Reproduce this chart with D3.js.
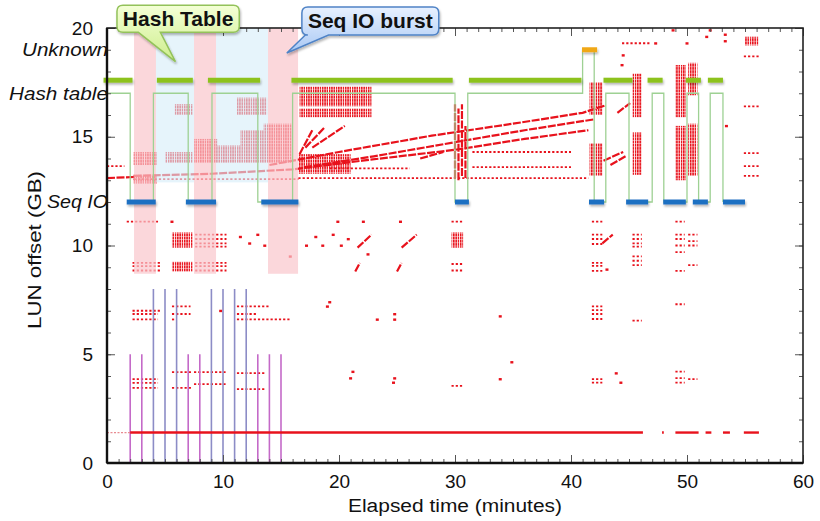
<!DOCTYPE html>
<html>
<head>
<meta charset="utf-8">
<script src="https://cdn.jsdelivr.net/npm/d3@7"></script>
<style>
body { margin: 0; background: #fff; }
svg { display: block; font-family: "Liberation Sans", Arial, Helvetica, sans-serif; }
</style>
</head>
<body>
<svg width="820" height="521"></svg>
<script>
// ---- data (minutes, GB) ----
var xMajor = [0, 10, 20, 30, 40, 50, 60];
var yMajor = [0, 5, 10, 15, 20];
var stateLabels = [["Unknown", 19, 86], ["Hash table", 17, 99], ["Seq IO", 12, 61]];

var hashSegs = [[-0.3, 2.2], [4.3, 7.4], [8.7, 13.2], [15.9, 29.8], [31.2, 40.9], [42.8, 45.3], [46.6, 47.9], [49.9, 51.2], [51.8, 53.1]];
var seqSegs = [[1.7, 4.2], [6.8, 9.4], [13.3, 16.5], [30.0, 31.2], [41.55, 42.85], [44.75, 46.65], [47.95, 49.9], [50.5, 51.8], [53.1, 55.0]];
var unknownSegs = [[40.95, 42.25]];
var hashLevel = 17.6, seqLevel = 12, unknownLevel = 19;

var stateTrace = [[0, 17], [2.0, 12], [4.0, 17], [7.0, 12], [9.05, 17], [13.0, 12], [16.0, 17], [30.0, 12], [31.1, 17],
  [41.0, 19], [42.0, 12], [43.0, 17], [45.0, 12], [47.0, 17], [48.0, 12], [50.0, 17], [51.0, 12], [52.0, 17], [53.1, 12], [53.1, 12]];

var pinkBands = [[2.33, 4.22], [7.5, 9.4], [13.88, 16.47]];
var pinkRange = [8.7, 20];
var blueBands = [[4.22, 7.5], [9.4, 13.88]];
var blueRange = [12.9, 20];

var purpleLines = [[2, 5], [3, 5], [4, 8], [5, 8], [6, 8], [7, 5], [8, 5], [9, 8], [10, 8], [11, 8], [12, 8], [13, 5], [14, 5], [15, 5]];

var lunLevel = 1.4;
var lunSegs = [[2.0, 46.2], [47.85, 48.0], [49.0, 51.0], [51.6, 52.1], [53.1, 53.7], [54.9, 56.2]];
var lunFaint = [[0, 2.0]];

var redBlocks = [
  [2.3, 4.3, 13.7, 14.3], [2.3, 4.3, 12.85, 13.25], [5.0, 7.4, 13.8, 14.3], [7.5, 9.5, 13.8, 14.9],
  [9.5, 11.5, 13.8, 14.6], [11.5, 13.5, 13.8, 15.3], [13.5, 16.0, 13.8, 15.6],
  [5.8, 7.4, 16.0, 16.5], [11.2, 13.8, 16.0, 16.8],
  [16.6, 22.8, 16.4, 17.3], [16.6, 22.8, 15.9, 16.3], [16.5, 21.0, 13.3, 14.2],
  [41.6, 42.7, 16.0, 17.5], [41.6, 42.7, 13.2, 14.7],
  [45.3, 46.1, 15.9, 17.9], [45.3, 46.1, 13.25, 15.2],
  [49.0, 49.9, 15.9, 18.3], [49.0, 49.9, 13.0, 15.5],
  [50.1, 50.9, 16.9, 18.4], [50.1, 50.9, 13.2, 15.6],
  [55.0, 56.2, 19.2, 19.6],
  [5.6, 7.4, 9.9, 10.6], [5.6, 7.4, 8.8, 9.25], [29.7, 30.7, 9.9, 10.6]
];

var redRows = [
  [2.3, 16.5, 13.05], [16.5, 41.5, 13.1], [31.5, 40.0, 14.3], [31.5, 40.0, 13.6], [19.2, 26.1, 13.55], [0, 1.5, 13.65],
  [44.4, 46.8, 19.3], [54.9, 56.2, 18.7], [54.9, 56.2, 16.4], [54.9, 56.2, 14.25], [54.9, 56.2, 13.65], [54.9, 56.2, 13.2],
  [1.7, 4.4, 11.1],
  [7.6, 10.3, 10.5], [7.6, 10.3, 10.3], [7.6, 10.3, 10.1], [7.6, 10.3, 9.95],
  [2.2, 4.6, 9.2], [2.2, 4.6, 9.05], [2.2, 4.6, 8.85],
  [7.6, 10.3, 9.2], [7.6, 10.3, 9.05], [7.6, 10.3, 8.85],
  [2.2, 4.6, 7.0], [2.2, 4.4, 6.85], [2.2, 4.4, 6.6],
  [5.6, 7.2, 7.2], [5.6, 7.2, 6.85], [5.6, 5.9, 6.6],
  [11.2, 14.0, 7.2], [11.2, 13.0, 6.85], [11.2, 15.8, 6.6],
  [2.2, 4.4, 3.86], [2.2, 4.4, 3.68], [2.2, 4.4, 3.45],
  [5.6, 7.3, 4.18], [5.6, 7.3, 3.45], [7.5, 10.3, 4.18], [7.5, 10.3, 3.63],
  [11.2, 13.6, 4.13], [11.2, 13.6, 3.4],
  [29.7, 30.7, 11.1], [29.7, 30.7, 9.15], [29.7, 30.7, 8.85], [29.7, 30.7, 3.55],
  [41.8, 42.7, 11.1], [41.8, 42.7, 10.5], [41.8, 42.7, 10.3], [41.8, 42.7, 10.07], [41.8, 42.7, 9.2], [41.8, 42.7, 9.06],
  [41.8, 42.7, 8.83], [41.8, 42.7, 7.2], [41.8, 42.7, 7.03], [41.8, 42.7, 6.85], [41.8, 42.7, 6.62], [41.8, 42.7, 3.86], [41.8, 42.7, 3.7],
  [45.3, 46.1, 10.5], [45.3, 46.1, 10.3], [45.3, 46.1, 10.1], [45.3, 46.1, 9.95], [45.3, 46.1, 9.5], [45.3, 46.1, 9.3],
  [45.3, 46.1, 9.1], [45.3, 46.1, 6.55],
  [49.0, 49.8, 11.1], [49.0, 49.8, 10.5], [49.0, 49.8, 10.3], [49.0, 49.8, 10.0], [49.0, 49.8, 9.7], [49.0, 49.8, 8.83],
  [49.0, 49.8, 7.3], [49.0, 49.8, 4.2], [49.0, 49.8, 3.9], [49.0, 49.8, 3.7],
  [50.1, 50.9, 10.5], [50.1, 50.9, 10.2], [50.1, 50.9, 10.0], [50.1, 50.9, 9.1], [50.1, 50.9, 3.86]
];

var redStreaks = [
  [[0, 13.1], [2.3, 13.15]],
  [[2.3, 13.2], [9, 13.3], [16, 13.5], [22, 13.9], [30, 14.4], [36, 14.9], [41.5, 15.3]],
  [[14, 13.7], [20, 14.3], [28, 15.05], [35, 15.6], [41, 16.1], [43, 16.45]],
  [[17, 13.6], [23, 14.1], [30, 14.75], [36, 15.3], [42, 15.8]],
  [[16.6, 14.2], [17.7, 15.3]], [[17.1, 14.5], [18.8, 15.45]], [[17.7, 14.5], [20.5, 15.5]],
  [[27, 14.0], [29, 14.3]],
  [[44.0, 16.1], [45.1, 16.55]], [[42.8, 13.9], [44.5, 14.3]], [[43.4, 13.7], [44.7, 14.1]],
  [[21.6, 9.9], [22.8, 10.5]], [[25.4, 9.9], [26.7, 10.5]], [[21.4, 8.8], [21.8, 9.2]], [[25.0, 8.8], [25.4, 9.2]],
  [[42.7, 10.1], [43.6, 10.5]],
  [[30.0, 13.1], [30.0, 16.5]], [[30.3, 13.0], [30.3, 16.3]], [[30.6, 13.2], [30.6, 16.5]], [[30.9, 13.1], [30.9, 15.5]]
];

var redDots = [
  [5.6, 11.1], [19.9, 11.1], [22.1, 11.1], [25.3, 11.1],
  [19.2, 7.4], [19.0, 7.2], [23.3, 6.6], [24.8, 6.85], [24.8, 6.6], [33.9, 6.75], [34.9, 4.64], [21.2, 4.2], [21.0, 3.9],
  [24.8, 3.9], [24.7, 3.7], [33.9, 3.86], [43.9, 4.13], [44.3, 3.7], [15.8, 9.5], [9.8, 7.0],
  [17.2, 10.0], [18.0, 10.4], [18.6, 10.0], [19.5, 10.5], [20.2, 10.0], [20.8, 10.3], [11.5, 10.4], [12.3, 10.1], [13.0, 10.5], [13.6, 10.0],
  [43.1, 8.9], [53.4, 15.5], [44.5, 18.75], [44.4, 18.3], [51.7, 19.6], [53.3, 19.4], [53.3, 19.7], [50.0, 19.3], [52.0, 19.9],
  [47.3, 19.3], [48.8, 19.9], [22.5, 9.6]
];

var callouts = [
  { text: "Hash Table", box: [0.86, 11.4, 21.05, 19.8], base: [2.7, 4.6], tip: [5.9, 18.45], fill: "gGreen", stroke: "#93c25a" },
  { text: "Seq IO burst", box: [16.8, 28.6, 20.97, 19.68], base: [17.1, 19.1], tip: [15.5, 18.85], fill: "gBlue", stroke: "#4f83c6" }
];

// ---- drawing ----
var svg = d3.select("svg");
var red = "#e8121c";
var x = d3.scaleLinear().domain([0, 60]).range([107, 803]);
var y = d3.scaleLinear().domain([0, 20]).range([463, 28]);

var defs = svg.append("defs");
var hp = defs.append("pattern").attr("id", "hatch").attr("patternUnits", "userSpaceOnUse")
  .attr("width", 2.3).attr("height", 3.2);
hp.append("rect").attr("width", 1.5).attr("height", 2.8).attr("fill", red);
var gg = defs.append("linearGradient").attr("id", "gGreen").attr("x1", 0).attr("y1", 0).attr("x2", 0).attr("y2", 1);
gg.append("stop").attr("offset", "0%").attr("stop-color", "#f4ffd6");
gg.append("stop").attr("offset", "100%").attr("stop-color", "#cdee8c");
var gb = defs.append("linearGradient").attr("id", "gBlue").attr("x1", 0).attr("y1", 0).attr("x2", 0).attr("y2", 1);
gb.append("stop").attr("offset", "0%").attr("stop-color", "#e8f1ff");
gb.append("stop").attr("offset", "100%").attr("stop-color", "#a8c8f4");
var sh = defs.append("filter").attr("id", "shadow").attr("filterUnits", "userSpaceOnUse")
  .attr("x", 0).attr("y", 0).attr("width", 820).attr("height", 521);
sh.append("feDropShadow").attr("dx", 1).attr("dy", 2).attr("stdDeviation", 1.3).attr("flood-color", "#000").attr("flood-opacity", 0.28);

// red I/O marks
var data = svg.append("g");
data.selectAll(".blk").data(redBlocks).enter().append("rect")
  .attr("x", function(d) { return x(d[0]); })
  .attr("y", function(d) { return y(d[3]); })
  .attr("width", function(d) { return x(d[1]) - x(d[0]); })
  .attr("height", function(d) { return y(d[2]) - y(d[3]); })
  .attr("fill", "url(#hatch)");
data.selectAll(".row").data(redRows).enter().append("line")
  .attr("x1", function(d) { return x(d[0]); })
  .attr("x2", function(d) { return x(d[1]); })
  .attr("y1", function(d) { return y(d[2]); })
  .attr("y2", function(d) { return y(d[2]); })
  .attr("stroke", red).attr("stroke-width", 1.8).attr("stroke-dasharray", "2.2,2");
var line = d3.line().x(function(d) { return x(d[0]); }).y(function(d) { return y(d[1]); });
data.selectAll(".streak").data(redStreaks).enter().append("path")
  .attr("d", line).attr("fill", "none")
  .attr("stroke", red).attr("stroke-width", 2.2).attr("stroke-dasharray", "8,1.5");
data.selectAll(".dot").data(redDots).enter().append("rect")
  .attr("x", function(d) { return x(d[0]) - 1.5; })
  .attr("y", function(d) { return y(d[1]) - 1; })
  .attr("width", 3).attr("height", 2.4).attr("fill", red);

// translucent phase bands over the marks
svg.selectAll(".pink").data(pinkBands).enter().append("rect")
  .attr("x", function(d) { return x(d[0]); })
  .attr("width", function(d) { return x(d[1]) - x(d[0]); })
  .attr("y", y(pinkRange[1])).attr("height", y(pinkRange[0]) - y(pinkRange[1]))
  .attr("fill", "#f9c6cc").attr("opacity", 0.7);
svg.selectAll(".blueband").data(blueBands).enter().append("rect")
  .attr("x", function(d) { return x(d[0]); })
  .attr("width", function(d) { return x(d[1]) - x(d[0]); })
  .attr("y", y(blueRange[1])).attr("height", y(blueRange[0]) - y(blueRange[1]))
  .attr("fill", "#d6edf9").attr("opacity", 0.62);

// vertical purple lines
svg.selectAll(".pl").data(purpleLines).enter().append("line")
  .attr("x1", function(d) { return x(d[0]); })
  .attr("x2", function(d) { return x(d[0]); })
  .attr("y1", y(0))
  .attr("y2", function(d) { return y(d[1]); })
  .attr("stroke", function(d) { return d[1] > 6 ? "#8c8cc6" : "#c46ac8"; })
  .attr("stroke-width", 1.6);

// LUN sequential line
svg.selectAll(".lun").data(lunSegs).enter().append("line")
  .attr("x1", function(d) { return x(d[0]); })
  .attr("x2", function(d) { return x(d[1]); })
  .attr("y1", y(lunLevel)).attr("y2", y(lunLevel))
  .attr("stroke", red).attr("stroke-width", 2.4);
svg.selectAll(".lunf").data(lunFaint).enter().append("line")
  .attr("x1", function(d) { return x(d[0]); })
  .attr("x2", function(d) { return x(d[1]); })
  .attr("y1", y(lunLevel)).attr("y2", y(lunLevel))
  .attr("stroke", "#e88a90").attr("stroke-width", 1.2).attr("stroke-dasharray", "2,1.5");

// state trace
svg.append("path").datum(stateTrace)
  .attr("d", d3.line().curve(d3.curveStepAfter).x(function(d) { return x(d[0]); }).y(function(d) { return y(d[1]); }))
  .attr("fill", "none").attr("stroke", "#9ed193").attr("stroke-width", 1.3);

function segs(list, level, color) {
  svg.append("g").attr("filter", "url(#shadow)").selectAll("line").data(list).enter().append("line")
    .attr("x1", function(d) { return x(d[0]); })
    .attr("x2", function(d) { return x(d[1]); })
    .attr("y1", y(level)).attr("y2", y(level))
    .attr("stroke", color).attr("stroke-width", 5);
}
segs(hashSegs, hashLevel, "#8dc21f");
segs(seqSegs, seqLevel, "#1e6fc2");
segs(unknownSegs, unknownLevel, "#f0a818");

// axes
function tidy(g) {
  g.select(".domain").remove();
  g.selectAll("line").attr("stroke", "#555");
  g.selectAll("text").attr("font-size", 19).attr("fill", "#111");
}
var xMinor = d3.range(0, 61), yMinor = d3.range(0, 21);
svg.append("g").attr("transform", "translate(0,463)").call(d3.axisBottom(x).tickValues(xMinor).tickSize(-4).tickFormat("")).call(tidy);
svg.append("g").attr("transform", "translate(0,463)").call(d3.axisBottom(x).tickValues(xMajor).tickSize(-8).tickPadding(12).tickFormat(d3.format("d"))).call(tidy);
svg.append("g").attr("transform", "translate(0,28)").call(d3.axisTop(x).tickValues(xMinor).tickSize(-4).tickFormat("")).call(tidy);
svg.append("g").attr("transform", "translate(0,28)").call(d3.axisTop(x).tickValues(xMajor).tickSize(-8).tickFormat("")).call(tidy);
svg.append("g").attr("transform", "translate(107,0)").call(d3.axisLeft(y).tickValues(yMinor).tickSize(-4).tickFormat("")).call(tidy);
svg.append("g").attr("transform", "translate(107,0)").call(d3.axisLeft(y).tickValues(yMajor).tickSize(-8).tickPadding(14).tickFormat(d3.format("d"))).call(tidy);
svg.append("g").attr("transform", "translate(803,0)").call(d3.axisRight(y).tickValues(yMinor).tickSize(-4).tickFormat("")).call(tidy);
svg.append("g").attr("transform", "translate(803,0)").call(d3.axisRight(y).tickValues(yMajor).tickSize(-8).tickFormat("")).call(tidy);

svg.append("rect").attr("x", x(0)).attr("y", y(20)).attr("width", x(60) - x(0)).attr("height", y(0) - y(20))
  .attr("fill", "none").attr("stroke", "#222").attr("stroke-width", 1.6);
svg.append("line").attr("x1", x(0)).attr("x2", x(0)).attr("y1", y(20)).attr("y2", y(0)).attr("stroke", "#111").attr("stroke-width", 2.4);
svg.append("line").attr("x1", x(0)).attr("x2", x(60)).attr("y1", y(0)).attr("y2", y(0)).attr("stroke", "#111").attr("stroke-width", 2.4);

svg.selectAll(".state").data(stateLabels).enter().append("text")
  .attr("x", x(0) + 1).attr("y", function(d) { return y(d[1]); }).attr("dy", "0.35em")
  .attr("text-anchor", "end").attr("font-style", "italic").attr("font-size", 18).attr("fill", "#111")
  .attr("textLength", function(d) { return d[2]; }).attr("lengthAdjust", "spacingAndGlyphs")
  .text(function(d) { return d[0]; });

svg.append("text").attr("x", 455).attr("y", 512).attr("text-anchor", "middle").attr("font-size", 18).attr("fill", "#111")
  .attr("textLength", 214).attr("lengthAdjust", "spacingAndGlyphs")
  .text("Elapsed time (minutes)");
svg.append("text").attr("transform", "translate(41,250) rotate(-90)").attr("text-anchor", "middle").attr("font-size", 18).attr("fill", "#111")
  .attr("textLength", 158).attr("lengthAdjust", "spacingAndGlyphs")
  .text("LUN offset (GB)");

// callouts
callouts.forEach(function(c) {
  var x0 = x(c.box[0]), x1 = x(c.box[1]), y0 = y(c.box[2]), y1 = y(c.box[3]), r = 6;
  var bl = x(c.base[0]), br = x(c.base[1]), tx = x(c.tip[0]), ty = y(c.tip[1]);
  var p = "M" + (x0 + r) + "," + y0 + "H" + (x1 - r) + "Q" + x1 + "," + y0 + " " + x1 + "," + (y0 + r) +
    "V" + (y1 - r) + "Q" + x1 + "," + y1 + " " + (x1 - r) + "," + y1 + "H" + br + "L" + tx + "," + ty + "L" + bl + "," + y1 +
    "H" + (x0 + r) + "Q" + x0 + "," + y1 + " " + x0 + "," + (y1 - r) + "V" + (y0 + r) + "Q" + x0 + "," + y0 + " " + (x0 + r) + "," + y0 + "Z";
  svg.append("path").attr("d", p).attr("fill", "url(#" + c.fill + ")").attr("stroke", c.stroke).attr("stroke-width", 1.5)
    .attr("filter", "url(#shadow)");
  svg.append("text").attr("x", (x0 + x1) / 2).attr("y", (y0 + y1) / 2).attr("dy", "0.36em").attr("text-anchor", "middle")
    .attr("font-size", 21).attr("font-weight", "bold").attr("fill", "#111").text(c.text);
});
</script>
</body>
</html>
